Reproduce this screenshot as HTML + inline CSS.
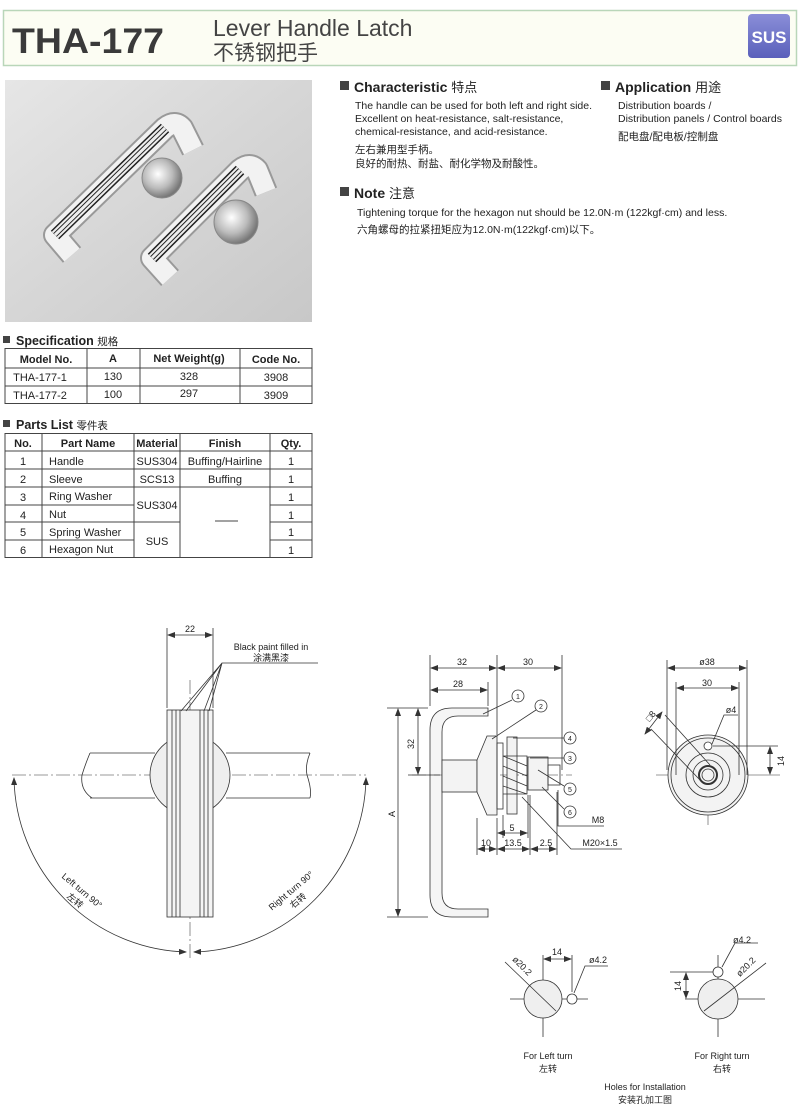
<!DOCTYPE html>
<html><head><meta charset="utf-8"><style>
body{margin:0;background:#fff;}
svg{display:block;font-family:"Liberation Sans","Noto Sans CJK SC",sans-serif;}
</style></head><body>
<svg width="800" height="1115" viewBox="0 0 800 1115" xmlns="http://www.w3.org/2000/svg">
<defs>
<linearGradient id="ph" x1="0" y1="0" x2="1" y2="1"><stop offset="0" stop-color="#e6e6e6"/><stop offset="0.5" stop-color="#d6d6d6"/><stop offset="1" stop-color="#c8c8c8"/></linearGradient>
<linearGradient id="sus" x1="0" y1="0" x2="0" y2="1"><stop offset="0" stop-color="#8a8ed8"/><stop offset="1" stop-color="#5a60bb"/></linearGradient>
<radialGradient id="kn" cx="0.4" cy="0.4" r="0.6"><stop offset="0" stop-color="#fff"/><stop offset="0.6" stop-color="#bbb"/><stop offset="1" stop-color="#777"/></radialGradient>
<marker id="a" markerWidth="8" markerHeight="6" refX="7" refY="3" orient="auto-start-reverse" markerUnits="userSpaceOnUse"><path d="M0,0 L8,3 L0,6 z" fill="#333"/></marker>
</defs>
<!-- header -->
<rect x="3.5" y="10.5" width="793" height="55" fill="#fcfdf3" stroke="#b9d6b9" stroke-width="1.5"/>
<text x="12" y="53" font-size="35" font-weight="bold" fill="#3a3a3a" textLength="152" lengthAdjust="spacingAndGlyphs">THA-177</text>
<text x="213" y="36" font-size="23" fill="#444">Lever Handle Latch</text>
<text x="213" y="60" font-size="21" fill="#444">不锈钢把手</text>
<rect x="748" y="14" width="42" height="44" rx="4" fill="url(#sus)"/>
<text x="769" y="43" font-size="17" font-weight="bold" fill="#fff" text-anchor="middle">SUS</text>
<!-- photo -->
<rect x="5" y="80" width="307" height="242" fill="url(#ph)"/>
<circle cx="162" cy="178" r="20" fill="url(#kn)" stroke="#888"/>
<circle cx="236" cy="222" r="22" fill="url(#kn)" stroke="#888"/>
<g fill="none" stroke-linejoin="round">
<g id="h1">
<path d="M72,255 L55,235 L165,128 Q175,120 182,128 L193,150" stroke="#999" stroke-width="24"/>
<path d="M72,255 L55,235 L165,128 Q175,120 182,128 L193,150" stroke="#f2f2f2" stroke-width="20"/>
<path d="M55,235 L165,128" stroke="#222" stroke-width="12"/>
<path d="M55,235 L165,128" stroke="#eee" stroke-width="9"/>
<path d="M55,235 L165,128" stroke="#222" stroke-width="5"/>
<path d="M55,235 L165,128" stroke="#eee" stroke-width="3"/>
</g>
<path d="M170,278 L152,258 L240,170 Q250,162 257,170 L266,192" stroke="#999" stroke-width="24"/>
<path d="M170,278 L152,258 L240,170 Q250,162 257,170 L266,192" stroke="#f2f2f2" stroke-width="20"/>
<path d="M152,258 L240,170" stroke="#222" stroke-width="12"/>
<path d="M152,258 L240,170" stroke="#eee" stroke-width="9"/>
<path d="M152,258 L240,170" stroke="#222" stroke-width="5"/>
<path d="M152,258 L240,170" stroke="#eee" stroke-width="3"/>
</g>
<!-- characteristic -->
<g fill="#222">
<rect x="340" y="81" width="9" height="9" fill="#444"/>
<text x="354" y="92" font-size="14" font-weight="bold">Characteristic <tspan font-weight="normal" font-size="13">特点</tspan></text>
<text x="355" y="109" font-size="10.5">The handle can be used for both left and right side.</text>
<text x="355" y="122" font-size="10.5">Excellent on heat-resistance, salt-resistance,</text>
<text x="355" y="135" font-size="10.5">chemical-resistance, and acid-resistance.</text>
<text x="355" y="153" font-size="10.5">左右兼用型手柄。</text>
<text x="355" y="167" font-size="10.5">良好的耐热、耐盐、耐化学物及耐酸性。</text>
<rect x="601" y="81" width="9" height="9" fill="#444"/>
<text x="615" y="92" font-size="14" font-weight="bold">Application <tspan font-weight="normal" font-size="13">用途</tspan></text>
<text x="618" y="109" font-size="10.5">Distribution boards /</text>
<text x="618" y="122" font-size="10.5">Distribution panels / Control boards</text>
<text x="618" y="140" font-size="10.5">配电盘/配电板/控制盘</text>
<rect x="340" y="187" width="9" height="9" fill="#444"/>
<text x="354" y="198" font-size="14" font-weight="bold">Note <tspan font-weight="normal" font-size="13">注意</tspan></text>
<text x="357" y="216" font-size="10.5">Tightening torque for the hexagon nut should be 12.0N·m (122kgf·cm) and less.</text>
<text x="357" y="233" font-size="10.5">六角螺母的拉紧扭矩应为12.0N·m(122kgf·cm)以下。</text>
</g>
<!-- spec table -->
<g font-size="11" fill="#222" text-anchor="middle">
<rect x="3" y="336" width="7" height="7" fill="#444"/>
<text x="16" y="345" font-size="12.5" font-weight="bold" text-anchor="start">Specification <tspan font-weight="normal" font-size="10.5">规格</tspan></text>
<g stroke="#444" fill="none"><rect x="5" y="348.5" width="307" height="55"/><line x1="5" y1="368" x2="312" y2="368"/><line x1="5" y1="386" x2="312" y2="386"/><line x1="87" y1="348" x2="87" y2="404"/><line x1="140" y1="348" x2="140" y2="404"/><line x1="240" y1="348" x2="240" y2="404"/></g>
<g font-weight="bold"><text x="46" y="363">Model No.</text><text x="113" y="362">A</text><text x="189" y="362">Net Weight(g)</text><text x="276" y="363">Code No.</text></g>
<text x="40" y="381">THA-177-1</text><text x="113" y="380">130</text><text x="189" y="380">328</text><text x="276" y="381">3908</text>
<text x="40" y="399">THA-177-2</text><text x="113" y="398">100</text><text x="189" y="397">297</text><text x="276" y="399">3909</text>
<!-- parts -->
<rect x="3" y="420" width="7" height="7" fill="#444"/>
<text x="16" y="429" font-size="12.5" font-weight="bold" text-anchor="start">Parts List <tspan font-weight="normal" font-size="10.5">零件表</tspan></text>
<g stroke="#444" fill="none"><rect x="5" y="433.5" width="307" height="124"/>
<line x1="5" y1="451" x2="312" y2="451"/><line x1="5" y1="469" x2="312" y2="469"/><line x1="5" y1="487" x2="312" y2="487"/>
<line x1="5" y1="505" x2="134" y2="505"/><line x1="270" y1="505" x2="312" y2="505"/>
<line x1="5" y1="522" x2="180" y2="522"/><line x1="270" y1="522" x2="312" y2="522"/>
<line x1="5" y1="540" x2="134" y2="540"/><line x1="270" y1="540" x2="312" y2="540"/>
<line x1="42" y1="433" x2="42" y2="558"/><line x1="134" y1="433" x2="134" y2="558"/><line x1="180" y1="433" x2="180" y2="558"/><line x1="270" y1="433" x2="270" y2="558"/>
<line x1="215" y1="521" x2="238" y2="521"/></g>
<g font-weight="bold"><text x="23" y="447">No.</text><text x="88" y="447">Part Name</text><text x="157" y="447">Material</text><text x="225" y="447">Finish</text><text x="291" y="447">Qty.</text></g>
<text x="23" y="465">1</text><text x="23" y="483">2</text><text x="23" y="501">3</text><text x="23" y="519">4</text><text x="23" y="536">5</text><text x="23" y="554">6</text>
<g text-anchor="start"><text x="49" y="465">Handle</text><text x="49" y="483">Sleeve</text><text x="49" y="500">Ring Washer</text><text x="49" y="518">Nut</text><text x="49" y="536">Spring Washer</text><text x="49" y="553">Hexagon Nut</text></g>
<text x="157" y="465">SUS304</text><text x="157" y="483">SCS13</text><text x="157" y="509">SUS304</text><text x="157" y="545">SUS</text>
<text x="225" y="465">Buffing/Hairline</text><text x="225" y="483">Buffing</text>
<text x="291" y="465">1</text><text x="291" y="483">1</text><text x="291" y="501">1</text><text x="291" y="519">1</text><text x="291" y="536">1</text><text x="291" y="554">1</text>
</g>
<!-- left drawing -->
<g stroke="#333" fill="none" stroke-width="0.8">
<line x1="12" y1="775" x2="366" y2="775" stroke="#777" stroke-dasharray="14,3,2,3"/>
<line x1="190" y1="680" x2="190" y2="960" stroke="#777" stroke-dasharray="14,3,2,3"/>
<path d="M90,753 L155,753 M90,798 L155,798 M226,753 L310,753 M226,798 L310,798"/>
<path d="M90,753 Q85,765 82,775 Q80,790 92,798 M310,753 Q305,765 307,775 Q312,790 310,798"/>
<circle cx="190" cy="775" r="40" fill="#efefef"/>
<rect x="167" y="710" width="46" height="207" fill="#f4f4f4"/>
<path d="M172,710V917 M176,710V917 M180,710V917 M200,710V917 M204,710V917 M208,710V917"/>
<path d="M14,778 A177,177 0 0 0 186,952" marker-start="url(#a)" marker-end="url(#a)"/>
<path d="M366,778 A177,177 0 0 1 194,952" marker-start="url(#a)" marker-end="url(#a)"/>
<path d="M167,628V708 M213,628V708"/>
<line x1="168" y1="635" x2="212" y2="635" marker-start="url(#a)" marker-end="url(#a)"/>
<path d="M318,663H222 L181,711 M222,663 L186,711 M222,663 L204,711 M222,663 L209,711"/>
</g>
<g font-size="9" fill="#222" text-anchor="middle">
<text x="190" y="632">22</text>
<text x="271" y="650">Black paint filled in</text>
<text x="271" y="661">涂满黑漆</text>
<text transform="translate(80,893) rotate(40)">Left turn 90°</text>
<text transform="translate(73,903) rotate(40)">左转</text>
<text transform="translate(293,893) rotate(-40)">Right turn 90°</text>
<text transform="translate(300,903) rotate(-40)">右转</text>
</g>
<!-- middle drawing -->
<g stroke="#333" fill="none" stroke-width="0.8">
<path d="M488,708 H452 Q430,708 430,730 V895 Q430,917 452,917 H488 V909 H458 Q442,909 442,893 V732 Q442,716 458,716 H488 Z" fill="#f5f5f5"/>
<line x1="412" y1="775" x2="572" y2="775" stroke="#777" stroke-dasharray="14,3,2,3"/>
<rect x="442" y="760" width="35" height="32" fill="#f3f3f3"/>
<path d="M477,760 L487,736 H497 V815 H487 L477,792 Z" fill="#f3f3f3"/>
<rect x="497" y="743" width="6" height="66"/>
<rect x="507" y="737" width="10" height="77" fill="#f3f3f3"/>
<path d="M503,756 L527,766 M503,766 L527,776 M503,776 L527,786 M503,786 L527,794 M503,756 H527 V794 H503"/>
<rect x="528" y="757" width="20" height="33" fill="#f3f3f3"/>
<rect x="548" y="765" width="12" height="20"/>
<path d="M430,655V706 M497,655V735 M562,655V770 M488,682V706"/>
<line x1="431" y1="668" x2="496" y2="668" marker-start="url(#a)" marker-end="url(#a)"/>
<line x1="498" y1="668" x2="561" y2="668" marker-start="url(#a)" marker-end="url(#a)"/>
<line x1="431" y1="690" x2="487" y2="690" marker-start="url(#a)" marker-end="url(#a)"/>
<path d="M387,708H428 M387,917H428 M408,775H440"/>
<line x1="398" y1="709" x2="398" y2="916" marker-start="url(#a)" marker-end="url(#a)"/>
<line x1="418" y1="709" x2="418" y2="774" marker-start="url(#a)" marker-end="url(#a)"/>
<path d="M477,818V855 M497,818V855 M530,795V855 M557,792V855 M503,815V838 M528,795V838"/>
<line x1="498" y1="833" x2="527" y2="833" marker-start="url(#a)" marker-end="url(#a)"/>
<line x1="478" y1="849" x2="496" y2="849" marker-start="url(#a)" marker-end="url(#a)"/>
<line x1="498" y1="849" x2="529" y2="849" marker-start="url(#a)" marker-end="url(#a)"/>
<line x1="531" y1="849" x2="556" y2="849" marker-start="url(#a)" marker-end="url(#a)"/>
<path d="M622,849H571 L522,797 M604,826H558V790"/>
<circle cx="518" cy="696" r="6" fill="#fff"/><circle cx="541" cy="706" r="6" fill="#fff"/>
<circle cx="570" cy="738" r="6" fill="#fff"/><circle cx="570" cy="758" r="6" fill="#fff"/>
<circle cx="570" cy="789" r="6" fill="#fff"/><circle cx="570" cy="812" r="6" fill="#fff"/>
<path d="M512,700L483,714 M536,710L492,739 M564,738H513 M564,758H530 M564,786L538,770 M564,809L542,787"/>
</g>
<g font-size="9" fill="#222" text-anchor="middle">
<text x="462" y="665">32</text><text x="528" y="665">30</text><text x="458" y="687">28</text>
<text transform="translate(395,814) rotate(-90)">A</text><text transform="translate(414,744) rotate(-90)">32</text>
<text x="512" y="831">5</text><text x="486" y="846">10</text><text x="513" y="846">13.5</text><text x="546" y="846">2.5</text>
<text x="598" y="823">M8</text><text x="600" y="846">M20×1.5</text>
<text x="518" y="699" font-size="7">1</text><text x="541" y="709" font-size="7">2</text><text x="570" y="741" font-size="7">4</text><text x="570" y="761" font-size="7">3</text><text x="570" y="792" font-size="7">5</text><text x="570" y="815" font-size="7">6</text>
</g>
<!-- right view -->
<g stroke="#333" fill="none" stroke-width="0.8">
<line x1="656" y1="775" x2="780" y2="775" stroke="#777"/>
<line x1="708" y1="735" x2="708" y2="825" stroke="#777"/>
<circle cx="708" cy="775" r="40" fill="#f3f3f3"/>
<circle cx="708" cy="775" r="37"/>
<circle cx="708" cy="775" r="22"/><circle cx="708" cy="775" r="15"/><circle cx="708" cy="775" r="9" stroke-width="2"/><circle cx="708" cy="775" r="6"/>
<circle cx="708" cy="746" r="4" fill="#fff"/>
<path d="M667,660V770 M747,660V775 M676,682V775 M739,682V775 M712,744L724,715H738 M713,746H778"/>
<line x1="668" y1="668" x2="746" y2="668" marker-start="url(#a)" marker-end="url(#a)"/>
<line x1="677" y1="688" x2="738" y2="688" marker-start="url(#a)" marker-end="url(#a)"/>
<line x1="770" y1="747" x2="770" y2="774" marker-start="url(#a)" marker-end="url(#a)"/>
<path d="M665,715L710,765 M651,729L700,780"/>
<line x1="645" y1="734" x2="662" y2="712" marker-start="url(#a)" marker-end="url(#a)"/>
</g>
<g font-size="9" fill="#222" text-anchor="middle">
<text x="707" y="665">ø38</text><text x="707" y="686">30</text><text x="731" y="713">ø4</text>
<text transform="translate(784,761) rotate(-90)">14</text>
<text transform="translate(653,718) rotate(-50)">□8</text>
</g>
<!-- holes -->
<g stroke="#333" fill="none" stroke-width="0.8">
<path d="M510,999H588 M543,955V1037 M572,955V992 M685,999H765 M718,955V1037 M670,972H713"/>
<circle cx="543" cy="999" r="19" fill="#efefef"/><circle cx="572" cy="999" r="5" fill="#fff"/>
<circle cx="718" cy="999" r="20" fill="#efefef"/><circle cx="718" cy="972" r="5" fill="#fff"/>
<line x1="544" y1="959" x2="571" y2="959" marker-start="url(#a)" marker-end="url(#a)"/>
<line x1="686" y1="973" x2="686" y2="998" marker-start="url(#a)" marker-end="url(#a)"/>
<path d="M505,962L556,1011 M608,966H585 L574,993 M766,963L704,1011 M758,943H735 L722,967"/>
</g>
<g font-size="9" fill="#222" text-anchor="middle">
<text x="557" y="955">14</text><text x="598" y="963">ø4.2</text>
<text transform="translate(520,968) rotate(45)">ø20.2</text>
<text x="742" y="943">ø4.2</text>
<text transform="translate(748,969) rotate(-45)">ø20.2</text>
<text transform="translate(681,986) rotate(-90)">14</text>
<text x="548" y="1059">For Left turn</text><text x="548" y="1072">左转</text>
<text x="722" y="1059">For Right turn</text><text x="722" y="1072">右转</text>
<text x="645" y="1090">Holes for Installation</text><text x="645" y="1103">安装孔加工图</text>
</g>
</svg>
</body></html>
